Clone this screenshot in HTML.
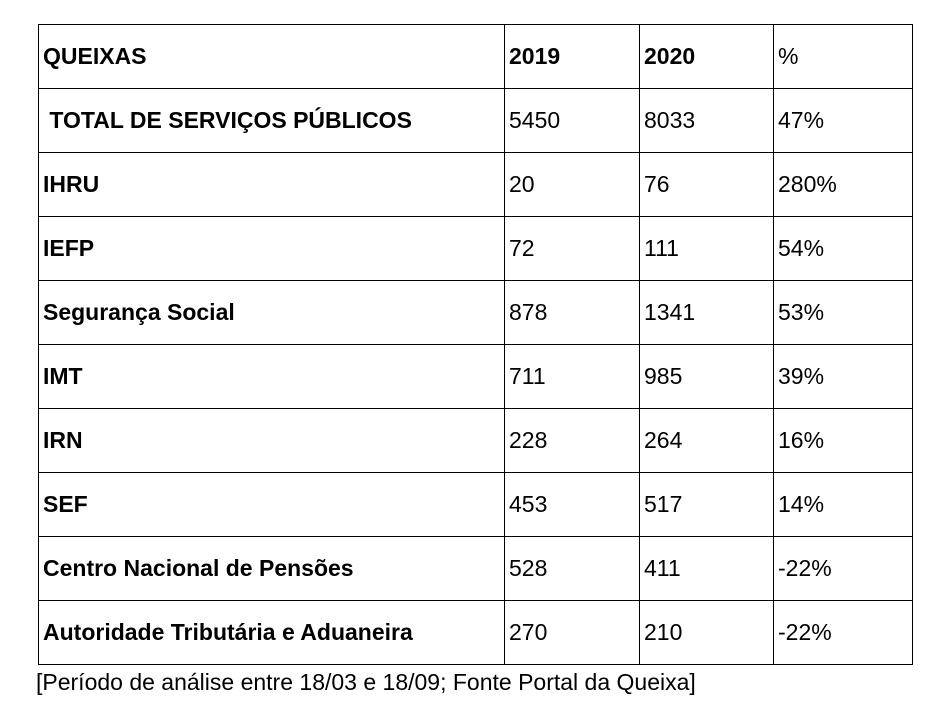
<!DOCTYPE html>
<html><head><meta charset="utf-8"><style>
body{margin:0;background:#fff;width:945px;height:710px;overflow:hidden;font-family:"Liberation Sans",sans-serif;color:#000}
table{position:absolute;left:38px;top:24px;border-collapse:collapse;table-layout:fixed;font-size:23px}
td{border:1.5px solid #000;height:63px;padding:0 0 0 4px;font-size:23px;vertical-align:middle;white-space:nowrap;overflow:hidden}
td.l{font-weight:bold}
tr.h td{font-weight:bold}
tr.h td:last-child{font-weight:normal}
.cap{position:absolute;left:36px;top:669px;font-size:23px;white-space:nowrap}
</style></head><body>
<table>
<colgroup><col style="width:466px"><col style="width:135px"><col style="width:134px"><col style="width:139px"></colgroup>
<tr class="h"><td>QUEIXAS</td><td>2019</td><td>2020</td><td>%</td></tr>
<tr><td class="l">&nbsp;TOTAL DE SERVIÇOS PÚBLICOS</td><td>5450</td><td>8033</td><td>47%</td></tr>
<tr><td class="l">IHRU</td><td>20</td><td>76</td><td>280%</td></tr>
<tr><td class="l">IEFP</td><td>72</td><td>111</td><td>54%</td></tr>
<tr><td class="l">Segurança Social</td><td>878</td><td>1341</td><td>53%</td></tr>
<tr><td class="l">IMT</td><td>711</td><td>985</td><td>39%</td></tr>
<tr><td class="l">IRN</td><td>228</td><td>264</td><td>16%</td></tr>
<tr><td class="l">SEF</td><td>453</td><td>517</td><td>14%</td></tr>
<tr><td class="l">Centro Nacional de Pensões</td><td>528</td><td>411</td><td>-22%</td></tr>
<tr><td class="l">Autoridade Tributária e Aduaneira</td><td>270</td><td>210</td><td>-22%</td></tr>
</table>
<div class="cap">[Período de análise entre 18/03 e 18/09; Fonte Portal da Queixa]</div>
</body></html>
